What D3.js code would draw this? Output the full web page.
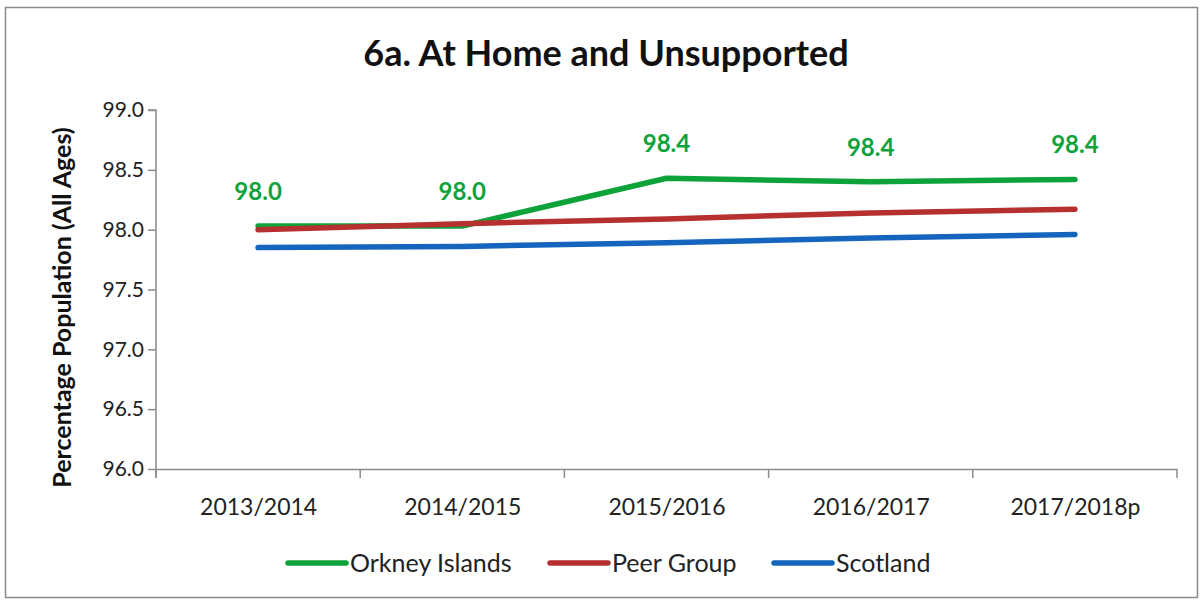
<!DOCTYPE html>
<html><head><meta charset="utf-8">
<script src="https://cdn.jsdelivr.net/npm/d3@7"></script>
<style>body{margin:0;background:#fff;} svg{display:block;}</style>
</head><body>
<svg id="c" width="1203" height="603"></svg>
<script>
const categories = ["2013/2014","2014/2015","2015/2016","2016/2017","2017/2018p"];
const orkney = [98.03, 98.03, 98.43, 98.40, 98.42];
const peerGroup = [98.00, 98.05, 98.09, 98.14, 98.17];
const scotland = [97.85, 97.86, 97.89, 97.93, 97.96];
const orkneyLabels = ["98.0","98.0","98.4","98.4","98.4"];
const yTicks = [96.0, 96.5, 97.0, 97.5, 98.0, 98.5, 99.0];
const seriesNames = ["Orkney Islands","Peer Group","Scotland"];
const colors = ["#0DA33A","#B5302E","#1565BE"];

const font = "Lato, 'Open Sans', sans-serif";
const svg = d3.select("#c");
svg.append("rect").attr("x",5.5).attr("y",7.5).attr("width",1192).attr("height",590)
  .attr("fill","#fff").attr("stroke","#8a8a8a").attr("stroke-width",1.5);

const L = 156, R = 1177, T = 110, B = 469;
const x = d3.scalePoint().domain(categories).range([L,R]).padding(0.5);
const xb = d3.scaleBand().domain(categories).range([L,R]);
const y = d3.scaleLinear().domain([96,99]).range([B,T]);

svg.append("text").attr("x",606).attr("y",66).attr("text-anchor","middle")
  .attr("font-family",font).attr("font-weight","bold").attr("font-size",36).attr("fill","#111")
  .text("6a. At Home and Unsupported");

// y axis
const ya = svg.append("g").attr("transform",`translate(${L},0)`)
  .call(d3.axisLeft(y).tickValues(yTicks).tickFormat(d3.format(".1f")).tickSize(8).tickPadding(4));
ya.select(".domain").attr("stroke","#8c8c8c").attr("stroke-width",1.5).attr("d",`M-8,${T}H0V${B+9}`);
ya.selectAll(".tick line").attr("stroke","#8c8c8c").attr("stroke-width",1.5);
ya.selectAll("text").attr("font-family",font).attr("font-size",21).attr("fill","#222");

// x axis
const xa = svg.append("g").attr("transform",`translate(0,${B})`)
  .call(d3.axisBottom(x).tickSize(0).tickPadding(30));
xa.select(".domain").attr("stroke","#8c8c8c").attr("stroke-width",1.5);
xa.selectAll("text").attr("font-family",font).attr("font-size",23).attr("fill","#222");
const bounds = categories.map(c => xb(c)).concat([R]);
svg.append("g").selectAll("line").data(bounds).join("line")
  .attr("x1",d=>d).attr("x2",d=>d).attr("y1",B).attr("y2",B+9)
  .attr("stroke","#8c8c8c").attr("stroke-width",1.5);

svg.append("text").attr("transform",`translate(71,${(T+B)/2+18}) rotate(-90)`)
  .attr("text-anchor","middle").attr("font-family",font).attr("font-weight","bold")
  .attr("font-size",25).attr("fill","#111").text("Percentage Population (All Ages)");

const line = d3.line().x((d,i)=>x(categories[i])).y(d=>y(d));
const allSeries = [orkney, peerGroup, scotland];
[0,1,2].forEach(k=>{
  svg.append("path").datum(allSeries[k]).attr("d",line).attr("fill","none")
    .attr("stroke",colors[k]).attr("stroke-width",5.5).attr("stroke-linecap","round").attr("stroke-linejoin","round");
});

svg.append("g").selectAll("text").data(orkney).join("text")
  .attr("x",(d,i)=>x(categories[i])).attr("y",d=>y(d)-26)
  .attr("text-anchor","middle").attr("font-family",font).attr("font-weight","bold")
  .attr("font-size",24).attr("fill",colors[0]).text((d,i)=>orkneyLabels[i]);

// legend
const legX = [288, 550, 774];
const lg = svg.append("g");
seriesNames.forEach((n,k)=>{
  lg.append("line").attr("x1",legX[k]).attr("x2",legX[k]+58).attr("y1",563).attr("y2",563)
    .attr("stroke",colors[k]).attr("stroke-width",5.5).attr("stroke-linecap","round");
  lg.append("text").attr("x",legX[k]+62).attr("y",572).attr("font-family",font)
    .attr("font-size",25).attr("fill","#222").text(n);
});
</script>
</body></html>
